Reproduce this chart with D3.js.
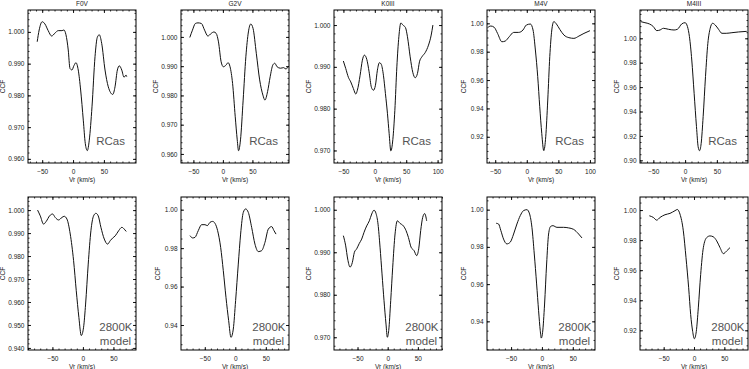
<!DOCTYPE html>
<html>
<head>
<meta charset="utf-8">
<script src="https://cdn.jsdelivr.net/npm/d3@7"></script>
<style>
  body { margin: 0; background: #fff; }
  svg { display: block; }
  .tick text { font-family: "Liberation Sans", Arial, sans-serif; font-size: 6.5px; fill: #222; }
  .lbl { font-family: "Liberation Sans", Arial, sans-serif; font-size: 6.5px; fill: #222; }
  .tag { font-family: "Liberation Sans", Arial, sans-serif; fill: #555; }
</style>
</head>
<body>
<svg id="chart" width="749" height="369"></svg>
<script>
'use strict';
// panel titles (top row only)
var titles = ['F0V', 'G2V', 'K0III', 'M4V', 'M4III'];

// ---- top row: R Cas ----
var f0vRcasVr  = [-58.1, -54.9, -50.0, -45.6, -40.3, -34.7, -29.4, -24.0, -18.0, -14.8, -11.5, -7.8, -5.0, -1.8, 1.5, 4.7, 8.4, 12.3, 16.6, 19.8, 23.1, 26.3, 30.7, 35.6, 39.3, 42.5, 46.4, 51.8, 57.1, 64.3, 68.0, 71.8, 75.0, 78.9, 82.6, 85.9, 87.0];
var f0vRcasCcf = [0.9969, 1.0006, 1.0032, 1.0025, 1.0004, 0.9987, 0.9996, 1.0004, 1.0004, 1.0006, 0.9991, 0.9943, 0.9885, 0.9880, 0.9894, 0.9903, 0.9880, 0.9817, 0.9722, 0.9649, 0.9626, 0.9659, 0.9764, 0.9922, 0.9983, 0.9991, 0.9964, 0.9880, 0.9827, 0.9803, 0.9827, 0.9880, 0.9893, 0.9880, 0.9857, 0.9864, 0.9859];

var g2vRcasVr  = [-56.1, -51.6, -46.6, -42.2, -36.5, -31.0, -25.5, -19.8, -15.4, -11.4, -7.5, -3.0, 0.8, 5.4, 8.7, 12.1, 16.4, 20.9, 24.3, 26.5, 29.8, 34.3, 38.9, 43.2, 47.2, 51.1, 56.6, 62.3, 67.8, 71.2, 75.7, 80.1, 84.6, 87.9, 91.8, 97.5, 103.0, 106.9, 110.0];
var g2vRcasCcf = [0.9998, 1.0023, 1.0046, 1.0048, 1.0046, 1.0023, 1.0003, 1.0012, 1.0017, 1.0012, 0.9983, 0.9915, 0.9898, 0.9904, 0.9912, 0.9898, 0.9841, 0.9727, 0.9648, 0.9611, 0.9648, 0.9784, 0.9932, 1.0017, 1.0044, 1.0029, 0.9944, 0.9853, 0.9801, 0.9784, 0.9813, 0.9864, 0.9904, 0.9910, 0.9898, 0.9893, 0.9895, 0.9890, 0.9898];

var k0iiiRcasVr  = [-50.1, -46.3, -42.1, -38.3, -34.1, -30.3, -27.8, -23.4, -19.8, -16.6, -12.8, -9.1, -5.4, -2.2, 1.0, 4.1, 7.3, 10.0, 13.7, 16.9, 20.1, 22.8, 25.5, 28.7, 31.9, 35.1, 38.3, 41.5, 44.7, 48.8, 52.0, 56.3, 60.6, 64.3, 67.9, 71.1, 75.0, 80.2, 85.5, 89.8, 92.5];
var k0iiiRcasCcf = [0.9914, 0.9896, 0.9875, 0.9864, 0.9848, 0.9835, 0.9844, 0.9880, 0.9916, 0.9928, 0.9918, 0.9888, 0.9851, 0.9844, 0.9856, 0.9892, 0.9910, 0.9907, 0.9880, 0.9836, 0.9789, 0.9741, 0.9699, 0.9726, 0.9796, 0.9900, 0.9972, 1.0005, 1.0000, 0.9994, 0.9972, 0.9924, 0.9886, 0.9874, 0.9884, 0.9912, 0.9924, 0.9934, 0.9952, 0.9976, 1.0000];

var m4vRcasVr  = [-62.2, -56.9, -51.6, -46.3, -39.4, -34.1, -27.7, -20.8, -12.9, -6.0, -0.7, 5.7, 9.9, 13.6, 17.3, 20.5, 23.7, 26.9, 30.0, 33.2, 36.4, 39.6, 42.8, 47.0, 52.3, 58.7, 66.6, 74.6, 82.5, 90.5, 100.0];
var m4vRcasCcf = [0.9969, 0.9981, 0.9972, 0.9929, 0.9870, 0.9875, 0.9906, 0.9936, 0.9936, 0.9953, 0.9988, 0.9995, 0.9953, 0.9812, 0.9624, 0.9412, 0.9224, 0.9102, 0.9200, 0.9459, 0.9765, 0.9953, 1.0012, 0.9995, 0.9957, 0.9918, 0.9899, 0.9894, 0.9910, 0.9929, 0.9948];

var m4iiiRcasVr  = [-70.0, -63.2, -56.3, -50.0, -44.7, -39.5, -34.2, -26.3, -17.4, -12.1, -5.3, 0.0, 3.7, 6.8, 10.5, 14.2, 17.9, 20.5, 22.6, 25.3, 28.4, 32.1, 35.8, 39.5, 43.2, 47.4, 52.6, 57.9, 64.7, 73.7, 84.2, 97.0];
var m4iiiRcasCcf = [1.0137, 1.0128, 1.0118, 1.0096, 1.0063, 1.0068, 1.0082, 1.0074, 1.0068, 1.0074, 1.0118, 1.0128, 1.0096, 1.0014, 0.9822, 0.9549, 0.9276, 0.9112, 0.9079, 0.9139, 0.9358, 0.9686, 0.9959, 1.0082, 1.0123, 1.0109, 1.0074, 1.0041, 1.0041, 1.0046, 1.0052, 1.0057];

// ---- bottom row: 2800K model ----
var f0vModelVr  = [-74.3, -69.9, -64.5, -60.1, -54.6, -49.7, -45.4, -39.9, -34.4, -30.6, -26.2, -20.8, -15.3, -10.9, -6.6, -2.7, 1.1, 4.4, 8.7, 13.1, 17.5, 21.3, 25.1, 29.5, 35.0, 40.4, 44.8, 48.6, 53.0, 58.5, 63.9, 67.8, 71.0];
var f0vModelCcf = [1.0000, 0.9975, 0.9939, 0.9951, 0.9975, 0.9983, 0.9968, 0.9957, 0.9968, 0.9973, 0.9961, 0.9896, 0.9780, 0.9649, 0.9533, 0.9454, 0.9490, 0.9591, 0.9765, 0.9910, 0.9975, 0.9986, 0.9975, 0.9925, 0.9874, 0.9852, 0.9867, 0.9878, 0.9888, 0.9910, 0.9925, 0.9917, 0.9907];

var g2vModelVr  = [-74.3, -69.9, -66.1, -60.7, -55.2, -49.7, -45.9, -41.5, -37.2, -33.3, -29.0, -24.0, -19.7, -15.3, -10.9, -7.1, -3.3, 0.5, 4.9, 8.7, 13.1, 16.9, 21.3, 26.8, 32.2, 37.7, 43.2, 48.6, 54.1, 59.6, 63.4, 66.7];
var g2vModelCcf = [0.9865, 0.9853, 0.9856, 0.9891, 0.9922, 0.9922, 0.9917, 0.9934, 0.9939, 0.9929, 0.9891, 0.9804, 0.9683, 0.9544, 0.9423, 0.9336, 0.9379, 0.9527, 0.9717, 0.9873, 0.9986, 1.0004, 0.9986, 0.9908, 0.9821, 0.9782, 0.9787, 0.9830, 0.9899, 0.9912, 0.9891, 0.9873];

var k0iiiModelVr  = [-73.5, -69.6, -66.3, -62.4, -58.6, -55.2, -51.4, -47.0, -43.1, -39.2, -34.8, -30.4, -26.5, -22.7, -19.3, -16.0, -12.7, -9.4, -6.1, -2.8, -0.6, 1.7, 5.0, 8.3, 12.2, 16.0, 20.4, 26.0, 30.4, 34.3, 38.7, 43.6, 48.1, 51.4, 54.7, 58.0, 61.3, 64.6];
var k0iiiModelCcf = [0.9939, 0.9915, 0.9884, 0.9865, 0.9876, 0.9900, 0.9908, 0.9921, 0.9931, 0.9947, 0.9962, 0.9974, 0.9990, 0.9999, 0.9991, 0.9966, 0.9912, 0.9849, 0.9786, 0.9731, 0.9700, 0.9716, 0.9786, 0.9865, 0.9943, 0.9974, 0.9968, 0.9962, 0.9951, 0.9935, 0.9912, 0.9904, 0.9892, 0.9908, 0.9951, 0.9982, 0.9991, 0.9974];

var m4vModelVr  = [-74.1, -70.3, -66.5, -62.2, -56.8, -51.4, -45.9, -40.5, -35.1, -29.7, -24.3, -20.0, -16.2, -12.4, -8.6, -5.4, -2.7, -1.1, 1.1, 4.3, 7.6, 10.8, 14.1, 17.8, 24.3, 35.1, 43.2, 51.4, 59.5, 64.9];
var m4vModelCcf = [0.9927, 0.9923, 0.9887, 0.9842, 0.9816, 0.9825, 0.9869, 0.9923, 0.9968, 0.9995, 1.0000, 0.9977, 0.9905, 0.9762, 0.9601, 0.9457, 0.9350, 0.9310, 0.9341, 0.9493, 0.9708, 0.9869, 0.9910, 0.9914, 0.9905, 0.9905, 0.9902, 0.9894, 0.9869, 0.9848];

var m4iiiModelVr  = [-73.6, -67.0, -61.5, -56.0, -47.8, -39.6, -31.3, -27.5, -23.1, -17.6, -13.2, -8.8, -5.5, -2.2, 0.5, 3.8, 7.1, 11.0, 15.4, 20.9, 26.4, 31.9, 37.4, 42.9, 48.4, 53.8, 59.3];
var m4iiiModelCcf = [0.9962, 0.9951, 0.9933, 0.9951, 0.9969, 0.9978, 0.9996, 1.0004, 0.9973, 0.9862, 0.9684, 0.9483, 0.9305, 0.9193, 0.9144, 0.9193, 0.9349, 0.9572, 0.9750, 0.9817, 0.9828, 0.9822, 0.9795, 0.9750, 0.9710, 0.9728, 0.9750];

// axis ranges and tick values per panel (top row then bottom row)
var xDomains = [[-73, 102], [-71, 112], [-65, 107], [-63, 108], [-71, 99],
                [-90, 87], [-89, 88], [-89, 90], [-89, 86], [-89, 89]];
var yDomains = [[0.9587, 1.0069], [0.9569, 1.0092], [0.9670, 1.0036], [0.9015, 1.0094], [0.8978, 1.0232],
                [0.9391, 1.0057], [0.9270, 1.0066], [0.9670, 1.0030], [0.9246, 1.0068], [0.9069, 1.0087]];
var xTickVals = [[-50, 0, 50], [-50, 0, 50], [-50, 0, 50, 100], [-50, 0, 50, 100], [-50, 0, 50],
                 [-50, 0, 50], [-50, 0, 50], [-50, 0, 50], [-50, 0, 50], [-50, 0, 50]];
var yTickVals = [[0.96, 0.97, 0.98, 0.99, 1.00], [0.96, 0.97, 0.98, 0.99, 1.00], [0.97, 0.98, 0.99, 1.00],
                 [0.92, 0.94, 0.96, 0.98, 1.00], [0.90, 0.92, 0.94, 0.96, 0.98, 1.00],
                 [0.94, 0.95, 0.96, 0.97, 0.98, 0.99, 1.00], [0.94, 0.96, 0.98, 1.00], [0.97, 0.98, 0.99, 1.00],
                 [0.94, 0.96, 0.98, 1.00], [0.92, 0.94, 0.96, 0.98, 1.00]];

var series = [
    [f0vRcasVr, f0vRcasCcf], [g2vRcasVr, g2vRcasCcf], [k0iiiRcasVr, k0iiiRcasCcf], [m4vRcasVr, m4vRcasCcf], [m4iiiRcasVr, m4iiiRcasCcf],
    [f0vModelVr, f0vModelCcf], [g2vModelVr, g2vModelCcf], [k0iiiModelVr, k0iiiModelCcf], [m4vModelVr, m4vModelCcf], [m4iiiModelVr, m4iiiModelCcf]
];

var svg = d3.select('#chart');
var W = 108, H = 153;
var colLeft = [28, 181, 334, 487, 640];
var rowTop = [10, 197];

function minors(dom, step) {
    var lo = Math.ceil(dom[0] / step - 1e-6), hi = Math.floor(dom[1] / step + 1e-6);
    return d3.range(lo, hi + 1).map(function (k) { return k * step; });
}

series.forEach(function (s, i) {
    var row = Math.floor(i / 5), col = i % 5;
    var g = svg.append('g').attr('transform', 'translate(' + colLeft[col] + ',' + rowTop[row] + ')');
    var x = d3.scaleLinear().domain(xDomains[i]).range([0, W]);
    var y = d3.scaleLinear().domain(yDomains[i]).range([H, 0]);
    var yStep = yTickVals[i][1] - yTickVals[i][0];
    var digits = yStep < 0.015 ? 3 : 2;
    var fmtY = d3.format('.' + digits + 'f');
    var yMinorStep = digits === 3 ? 0.002 : 0.005;

    // minor ticks, all four sides
    var xm = minors(xDomains[i], 10), ym = minors(yDomains[i], yMinorStep);
    [[d3.axisBottom(x), 'translate(0,' + H + ')', xm], [d3.axisTop(x), null, xm],
     [d3.axisLeft(y), null, ym], [d3.axisRight(y), 'translate(' + W + ',0)', ym]].forEach(function (a) {
        var ax = g.append('g').attr('transform', a[1]).call(a[0].tickValues(a[2]).tickSize(-1.5).tickFormat(''));
        ax.select('.domain').remove();
        ax.selectAll('line').attr('stroke', '#000').attr('stroke-width', 0.8);
    });

    // major ticks with labels
    var xb = g.append('g').attr('transform', 'translate(0,' + H + ')')
        .call(d3.axisBottom(x).tickValues(xTickVals[i]).tickSize(-3).tickPadding(6).tickFormat(d3.format('d')));
    var yl = g.append('g')
        .call(d3.axisLeft(y).tickValues(yTickVals[i]).tickSize(-3).tickPadding(3.5).tickFormat(fmtY));
    var xt = g.append('g').call(d3.axisTop(x).tickValues(xTickVals[i]).tickSize(-3).tickFormat(''));
    var yr = g.append('g').attr('transform', 'translate(' + W + ',0)')
        .call(d3.axisRight(y).tickValues(yTickVals[i]).tickSize(-3).tickFormat(''));
    [xb, yl, xt, yr].forEach(function (ax) {
        ax.select('.domain').remove();
        ax.selectAll('line').attr('stroke', '#000').attr('stroke-width', 0.9);
    });

    g.append('rect').attr('x', 0).attr('y', 0).attr('width', W).attr('height', H)
        .attr('fill', 'none').attr('stroke', '#000').attr('stroke-width', 1);

    var pts = s[0].map(function (v, k) { return [v, s[1][k]]; });
    g.append('path').datum(pts)
        .attr('fill', 'none').attr('stroke', '#111').attr('stroke-width', 1)
        .attr('d', d3.line().x(function (d) { return x(d[0]); }).y(function (d) { return y(d[1]); })
            .curve(d3.curveMonotoneX));

    // axis titles
    g.append('text').attr('class', 'lbl').attr('text-anchor', 'middle')
        .attr('x', W / 2).attr('y', H + 18.5).text('Vr (km/s)');
    g.append('text').attr('class', 'lbl').attr('text-anchor', 'middle')
        .attr('transform', 'translate(' + (digits === 3 ? -23 : -21) + ',' + (H / 2) + ') rotate(-90)').text('CCF');

    if (row === 0) {
        g.append('text').attr('class', 'lbl').attr('text-anchor', 'middle')
            .attr('x', W / 2).attr('y', -4).text(titles[col]);
        g.append('text').attr('class', 'tag').attr('font-size', 11.5).attr('text-anchor', 'end')
            .attr('x', W - 11).attr('y', 135).text('RCas');
    } else {
        g.append('text').attr('class', 'tag').attr('font-size', 11.5).attr('text-anchor', 'end')
            .attr('x', W - 3.5).attr('y', 134).text('2800K');
        g.append('text').attr('class', 'tag').attr('font-size', 11.5).attr('text-anchor', 'middle')
            .attr('x', W - 20.5).attr('y', 147.5).text('model');
    }
});
</script>
</body>
</html>
